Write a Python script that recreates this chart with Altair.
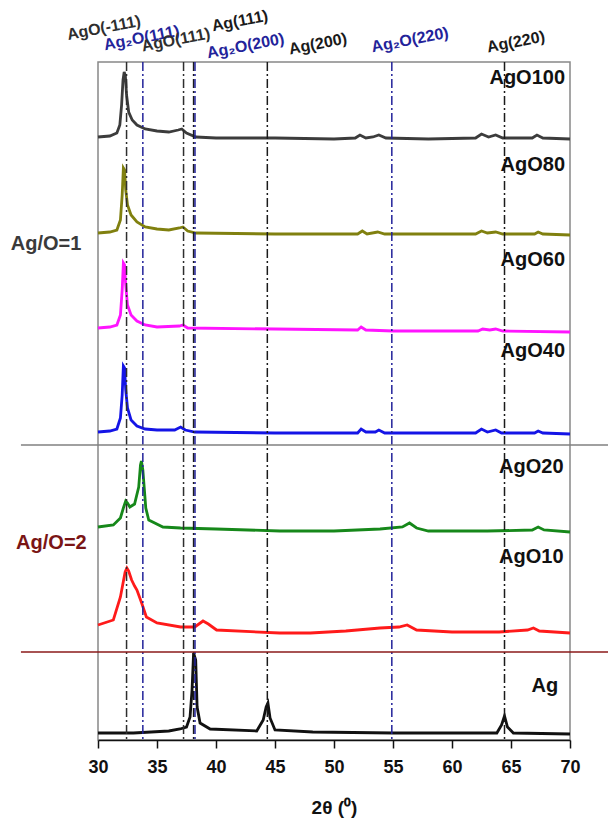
import altair as alt
import pandas as pd

# ---------------- data (offset-stacked XRD intensities, a.u.) ----------------
samples = ["AgO100", "AgO80", "AgO60", "AgO40", "AgO20", "AgO10", "Ag"]
sample_colors = ["#3c3c3c", "#80800f", "#ff14ff", "#1414e6", "#16881a", "#ff1a1a", "#111111"]

two_theta_AgO100 = [30.0, 31.0, 31.6, 31.85, 32.0, 32.12, 32.22, 32.32, 32.42, 32.6, 32.9, 33.3, 34.0, 35.0,
                    36.0, 36.8, 37.1, 37.5, 38.3, 40.0, 45.0, 50.0, 51.8, 52.2, 52.7, 53.3, 53.8, 54.4, 58.0,
                    62.0, 62.5, 63.1, 63.7, 64.3, 66.8, 67.2, 67.7, 70.0]
intensity_AgO100 = [603, 604, 607, 615, 635, 660, 668, 664, 645, 628, 620, 615, 611, 609,
                    608, 610, 611, 607, 603, 602, 602, 601, 602, 605, 602, 603, 605, 602, 601,
                    602, 606, 603, 605, 602, 602, 605, 602, 601]

two_theta_AgO80 = [30.0, 31.0, 31.6, 31.9, 32.05, 32.15, 32.25, 32.35, 32.5, 32.8, 33.3, 34.0, 35.0, 36.0,
                   36.9, 37.2, 37.6, 38.3, 45.0, 52.0, 52.4, 52.8, 53.7, 54.3, 62.0, 62.5, 63.0, 63.7,
                   64.3, 67.0, 67.3, 67.7, 70.0]
intensity_AgO80 = [507, 508, 510, 520, 545, 572, 570, 550, 535, 525, 518, 513, 511, 510,
                   512, 513, 509, 507, 506, 506, 509, 506, 508, 506, 506, 509, 507, 508,
                   506, 506, 508, 506, 505]

two_theta_AgO60 = [30.0, 31.0, 31.6, 31.9, 32.05, 32.15, 32.25, 32.35, 32.5, 32.8, 33.3, 34.0, 35.0, 36.9,
                   37.2, 37.6, 45.0, 52.0, 52.3, 52.7, 55.0, 62.2, 62.6, 63.2, 63.7, 64.3, 70.0]
intensity_AgO60 = [412, 413, 415, 425, 450, 477, 475, 455, 435, 425, 419, 415, 413, 414,
                   415, 412, 411, 410, 413, 410, 409, 409, 411, 410, 411, 409, 408]

two_theta_AgO40 = [30.0, 31.0, 31.6, 31.9, 32.05, 32.15, 32.25, 32.35, 32.5, 32.8, 33.3, 34.0, 35.0, 36.5,
                   37.0, 37.4, 38.2, 45.0, 52.0, 52.3, 52.7, 53.5, 53.8, 54.3, 62.0, 62.5, 63.0, 63.7,
                   64.2, 67.0, 67.3, 67.7, 70.0]
intensity_AgO40 = [308, 309, 311, 322, 345, 374, 372, 350, 332, 320, 314, 311, 310, 310,
                   313, 310, 308, 307, 307, 311, 308, 308, 310, 307, 307, 311, 308, 310,
                   307, 307, 309, 307, 306]

two_theta_AgO20 = [30.0, 31.3, 31.9, 32.15, 32.35, 32.5, 32.7, 33.1, 33.45, 33.6, 33.68, 33.8, 34.05, 34.3,
                   35.5, 37.0, 40.0, 45.4, 50.0, 53.9, 55.8, 56.4, 57.0, 58.0, 63.0, 66.8, 67.3, 67.8, 70.0]
intensity_AgO20 = [213, 215, 222, 232, 239, 237, 233, 236, 253, 275, 279, 270, 232, 220,
                   213, 212, 211, 209, 209, 211, 213, 217, 212, 209, 209, 210, 213, 210, 208]

two_theta_AgO10 = [30.0, 31.3, 31.9, 32.3, 32.45, 32.6, 32.85, 33.1, 33.3, 33.7, 34.1, 35.0, 37.0, 38.2,
                   38.9, 39.35, 40.05, 45.4, 48.0, 51.0, 53.9, 55.5, 56.2, 57.0, 60.0, 64.0, 66.4, 66.9,
                   67.4, 70.0]
intensity_AgO10 = [115, 120, 143, 168, 172, 169, 160, 154, 150, 137, 123, 117, 113, 113,
                   119, 116, 110, 107, 107, 109, 112, 113, 115, 110, 108, 108, 110, 112,
                   109, 107]

two_theta_Ag = [30.0, 33.0, 36.0, 36.95, 37.5, 37.8, 37.97, 38.1, 38.28, 38.4, 38.65, 39.5, 43.45, 44.0,
                44.25, 44.4, 44.58, 45.0, 48.2, 55.0, 63.8, 64.2, 64.45, 64.7, 65.2, 70.0]
intensity_Ag = [7, 7, 9, 11, 13, 23, 50, 87, 80, 33, 17, 11, 9, 20,
                33, 37, 22, 10, 8, 7, 7, 15, 24, 13, 7, 6]

# reference reflections
ref_names = ["AgO(-111)", "Ag₂O(111)", "AgO(111)", "Ag(111)", "Ag₂O(200)", "Ag(200)", "Ag₂O(220)", "Ag(220)"]
ref_positions = [32.42, 33.8, 37.25, 38.1, 38.22, 44.35, 54.9, 64.45]
ref_phase = ["AgO", "Ag2O", "AgO", "Ag", "Ag2O", "Ag", "Ag2O", "Ag"]

group_names = ["Ag/O=1", "Ag/O=2"]
tick_values = [30, 32.5, 35, 37.5, 40, 42.5, 45, 47.5, 50, 52.5, 55, 57.5, 60, 62.5, 65, 67.5, 70]

# ---------------- layout (separate from data) ----------------
ref_label_x = [30.5, 33.7, 36.6, 42.03, 42.5, 48.64, 56.44, 65.42]
ref_label_y = [712, 702, 700, 719, 694, 696, 700, 698]
sample_label_x = [69.58, 69.58, 69.58, 69.58, 69.45, 69.45, 69.0]
sample_label_y = [662, 575, 480, 389, 273, 183, 54]
group_x = [25.6, 26.05]
group_y = [496, 197]
group_colors = ["#3a3a3a", "#7a1515"]
sep_y = [295, 88]
sep_colors = ["#808080", "#8b1a1a"]

FONT = "Liberation Sans"
W, H = 472, 678
xs = alt.Scale(domain=[30, 70], nice=False)
ys = alt.Scale(domain=[0, 678], nice=False)

series = {
    "AgO100": (two_theta_AgO100, intensity_AgO100),
    "AgO80": (two_theta_AgO80, intensity_AgO80),
    "AgO60": (two_theta_AgO60, intensity_AgO60),
    "AgO40": (two_theta_AgO40, intensity_AgO40),
    "AgO20": (two_theta_AgO20, intensity_AgO20),
    "AgO10": (two_theta_AgO10, intensity_AgO10),
    "Ag": (two_theta_Ag, intensity_Ag),
}
rows = []
for s in samples:
    tt, ii = series[s]
    for t, i in zip(tt, ii):
        rows.append({"sample": s, "two_theta": t, "intensity": i})
curves_df = pd.DataFrame(rows)

curves = alt.Chart(curves_df).mark_line(strokeWidth=2.8, clip=False).encode(
    x=alt.X("two_theta:Q", scale=xs,
            axis=alt.Axis(values=tick_values, title="2θ (⁰)",
                          labelExpr="datum.value % 5 == 0 ? datum.label : ''",
                          labelFont=FONT, labelFontSize=18, labelFontWeight="bold", labelColor="#111",
                          titleFont=FONT, titleFontSize=19, titleFontWeight="bold", titleColor="#111",
                          domainColor="#111", domainWidth=1.5, tickColor="#111", tickWidth=1.5,
                          tickSize=8, labelPadding=10, titlePadding=22, grid=False, labelFlush=False)),
    y=alt.Y("intensity:Q", scale=ys, axis=None),
    color=alt.Color("sample:N", scale=alt.Scale(domain=samples, range=sample_colors), legend=None),
    detail="sample:N",
)

refs_df = pd.DataFrame({"name": ref_names, "pos": ref_positions, "phase": ref_phase,
                        "lx": ref_label_x, "ly": ref_label_y})
phase_scale = alt.Scale(domain=["Ag", "AgO", "Ag2O"], range=["#1a1a1a", "#2e2e2e", "#23239a"])
ref_lines = alt.Chart(refs_df).mark_rule(strokeWidth=1.5, strokeDash=[9, 3, 2, 3]).encode(
    x=alt.X("pos:Q", scale=xs),
    y=alt.value(0), y2=alt.value(H),
    color=alt.Color("phase:N", scale=phase_scale, legend=None),
)
ref_text = alt.Chart(refs_df).mark_text(
    font=FONT, fontSize=16, angle=349, align="center", baseline="middle", fontWeight="bold").encode(
    x=alt.X("lx:Q", scale=xs), y=alt.Y("ly:Q", scale=ys),
    text="name:N",
    color=alt.Color("phase:N", scale=phase_scale, legend=None),
)

sep_df = pd.DataFrame({"y": sep_y, "c": sep_colors, "x1": [23.47, 23.47], "x2": [73.3, 73.3]})
seps = alt.Chart(sep_df).mark_rule(strokeWidth=1.6).encode(
    x=alt.X("x1:Q", scale=xs), x2="x2:Q", y=alt.Y("y:Q", scale=ys),
    color=alt.Color("c:N", scale=None),
)

lab_df = pd.DataFrame({"sample": samples, "x": sample_label_x, "y": sample_label_y})
sample_text = alt.Chart(lab_df).mark_text(font=FONT, fontSize=20, fontWeight="bold", align="right",
                                          baseline="middle", color="#111").encode(
    x=alt.X("x:Q", scale=xs), y=alt.Y("y:Q", scale=ys), text="sample:N")

grp_df = pd.DataFrame({"g": group_names, "x": group_x, "y": group_y, "c": group_colors})
grp_text = alt.Chart(grp_df).mark_text(font=FONT, fontSize=20, fontWeight="bold", align="center",
                                       baseline="middle").encode(
    x=alt.X("x:Q", scale=xs), y=alt.Y("y:Q", scale=ys), text="g:N",
    color=alt.Color("c:N", scale=None))

chart = alt.layer(curves, ref_lines, seps, ref_text, sample_text, grp_text).resolve_scale(
    color="independent"
).properties(
    width=W, height=H,
    autosize=alt.AutoSizeParams(type="none"),
    padding={"left": 98, "top": 62, "right": 38, "bottom": 84},
    background="white",
).configure_view(stroke="#888888", strokeWidth=1.5)

chart.save("out.html", embed_options={"renderer": "svg", "actions": False})
